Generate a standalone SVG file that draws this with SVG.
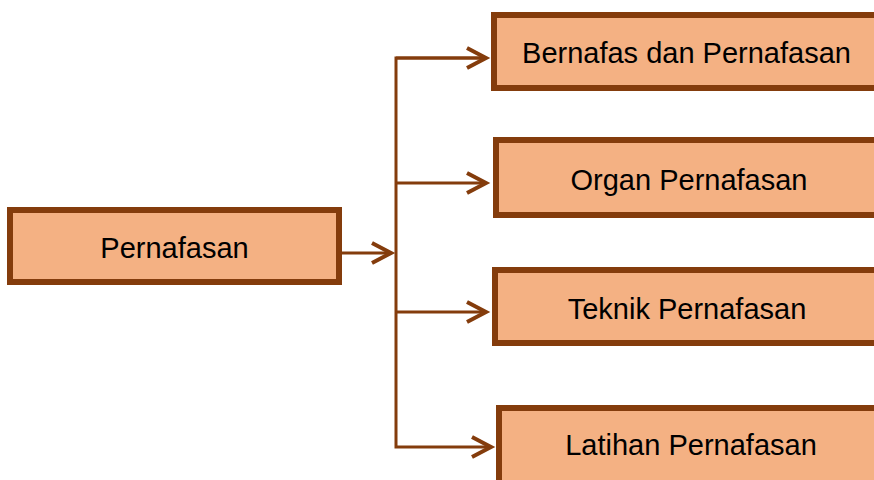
<svg xmlns="http://www.w3.org/2000/svg" width="874" height="480" viewBox="0 0 874 480">
<style>
.box{fill:#F4B183;stroke:#843C0C;stroke-width:6}
.lbl{font-family:"Liberation Sans",Arial,sans-serif;font-size:29px;fill:#000;text-anchor:middle}
.con{fill:none;stroke:#843C0C;stroke-width:3}
</style>
<defs>
<marker id="arr" markerUnits="userSpaceOnUse" markerWidth="30" markerHeight="30" viewBox="-24 -15 30 30" refX="0" refY="0" orient="auto" overflow="visible">
<path d="M-19,-10 L0,0 L-19,10" fill="none" stroke="#843C0C" stroke-width="4"/>
</marker>
</defs>
<rect width="874" height="480" fill="#fff"/>
<g id="connectors">
<path class="con" d="M342,253 H391" marker-end="url(#arr)"/>
<path class="con" d="M486,58 H396 V447 H491" marker-end="url(#arr)"/>
<path class="con" d="M396,58 H486" marker-end="url(#arr)"/>
<path class="con" d="M396,183 H486" marker-end="url(#arr)"/>
<path class="con" d="M396,312 H486" marker-end="url(#arr)"/>
</g>
<g id="n0"><rect class="box" x="10" y="210" width="329" height="72"/><text class="lbl" x="174.5" y="258">Pernafasan</text></g>
<g id="n1"><rect class="box" x="494" y="15" width="400" height="73"/><text class="lbl" x="686.5" y="63">Bernafas dan Pernafasan</text></g>
<g id="n2"><rect class="box" x="496" y="140" width="400" height="75"/><text class="lbl" x="689" y="190">Organ Pernafasan</text></g>
<g id="n3"><rect class="box" x="495" y="270" width="400" height="73"/><text class="lbl" x="687" y="319">Teknik Pernafasan</text></g>
<g id="n4"><rect class="box" x="499" y="408" width="400" height="100"/><text class="lbl" x="691" y="455">Latihan Pernafasan</text></g>
</svg>
